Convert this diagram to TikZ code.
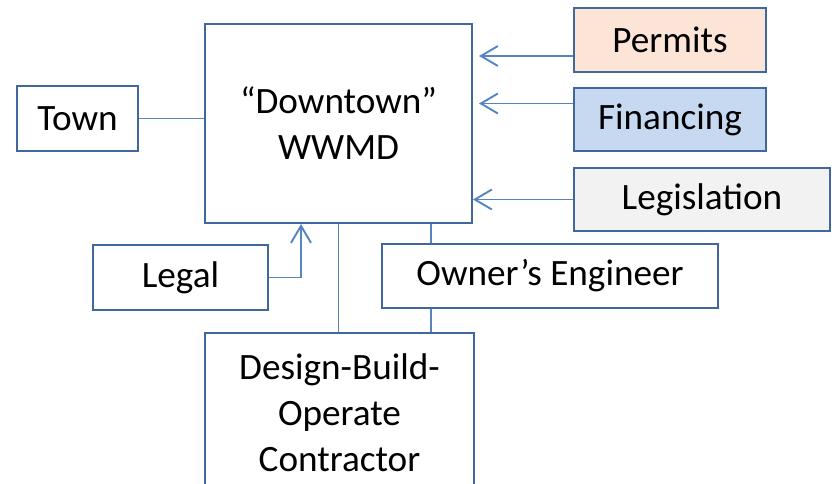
\documentclass[tikz,border=0pt]{standalone}
\usepackage{fontspec}
\setmainfont{Carlito}
\usepackage{tikz}
\usetikzlibrary{arrows.meta,positioning}

\definecolor{boxline}{HTML}{41689C}
\definecolor{wireblue}{HTML}{5585C0}
\definecolor{permitfill}{HTML}{FCE4D6}
\definecolor{financefill}{HTML}{C6D9F1}
\definecolor{lawfill}{HTML}{F2F2F2}

\begin{document}
\begin{tikzpicture}[on grid,x=1pt,y=1pt,
		unit/.style={draw=boxline,line width=2pt,fill=white,inner sep=0pt,align=center,font=\fontsize{37.2}{46}\selectfont},
		wire/.style={draw=wireblue,line width=1.9pt},
		arr/.style={wire,-{Straight Barb[length=17pt,width=20pt,line width=1.9pt]}}]
					\useasboundingbox (0,0) rectangle (838,-484);
					\node[unit,minimum width=267pt,minimum height=199pt] (wwmd) at (338.5,-123.5) {“Downtown”\\WWMD};
					\node[unit,fill=permitfill,minimum width=192pt,minimum height=64pt] (permits) [above right=83.5pt and 331.5pt of wwmd] {Permits};
					\node[unit,fill=financefill,minimum width=192pt,minimum height=63pt] (financing) [above right=4pt and 331.5pt of wwmd] {Financing};
					\node[unit,fill=lawfill,minimum width=256pt,minimum height=63pt] (legislation) [below right=76pt and 363.5pt of wwmd] {Legislation};
					\node[unit,minimum width=121pt,minimum height=65pt] (town) [above left=5pt and 261pt of wwmd] {Town};
					\node[unit,minimum width=175pt,minimum height=65pt] (legal) [below left=154pt and 158pt of wwmd] {Legal};
					\node[unit,minimum width=336pt,minimum height=64pt] (owner) [below right=152.5pt and 211.5pt of wwmd] {Owner’s Engineer};
					\node[unit,minimum width=269pt,minimum height=160pt] (dbo) [below right=289pt and 1pt of wwmd] {Design-Build-\\Operate\\Contractor};
					
					\coordinate (oe top) at ([xshift=-119pt]owner.north);
					\coordinate (oe bottom) at ([xshift=-119pt]owner.south);
					\coordinate (legal in) at ([xshift=-37.5pt]wwmd.south);
					
					\draw[arr] ([yshift=-16pt]permits.west) -- ++(-94,0);
					\draw[arr] ([yshift=16pt]financing.west) -- ++(-94,0);
					\draw[arr] (legislation.west) -- (wwmd.east |- legislation.west);
					\draw[wire] (town.east) -- (wwmd.west |- town.east);
					\draw[arr] (legal.east) -| (legal in);
					\draw[wire] (oe top) -- (oe top |- wwmd.south);
					\draw[wire] (oe bottom) -- (oe bottom |- dbo.north);
					\draw[wire] (wwmd.south) -- (wwmd.south |- dbo.north);
				\end{tikzpicture}
\end{document}
